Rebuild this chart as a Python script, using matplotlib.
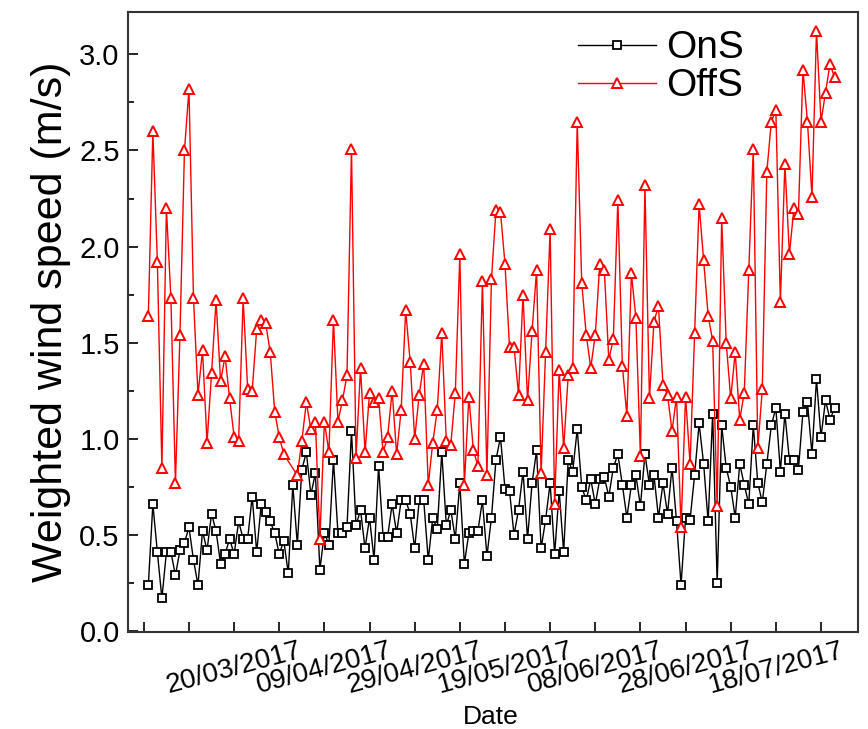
import numpy as np
import matplotlib
matplotlib.use('Agg')
import matplotlib.pyplot as plt
import matplotlib.dates as mdates
from matplotlib.ticker import FixedLocator, MultipleLocator, FormatStrFormatter

plt.rcParams['font.family'] = 'Liberation Sans'

# daily weighted wind speed, 01/03/2017 - 31/07/2017
start_date = '2017-03-01'

ons = [0.24, 0.66, 0.41, 0.17, 0.41, 0.41, 0.29, 0.42, 0.46, 0.54,
       0.37, 0.24, 0.52, 0.42, 0.61, 0.52, 0.35, 0.40, 0.48, 0.40,
       0.57, 0.48, 0.48, 0.70, 0.41, 0.66, 0.62, 0.57, 0.51, 0.40,
       0.47, 0.30, 0.76, 0.45, 0.84, 0.93, 0.71, 0.82, 0.32, 0.51,
       0.45, 0.89, 0.51, 0.51, 0.54, 1.04, 0.55, 0.63, 0.43, 0.59,
       0.37, 0.86, 0.49, 0.49, 0.66, 0.51, 0.68, 0.68, 0.61, 0.43,
       0.68, 0.68, 0.37, 0.59, 0.53, 0.93, 0.55, 0.63, 0.48, 0.77,
       0.35, 0.51, 0.52, 0.52, 0.68, 0.39, 0.59, 0.89, 1.01, 0.74,
       0.73, 0.50, 0.63, 0.83, 0.48, 0.77, 0.94, 0.43, 0.58, 0.77,
       0.40, 0.73, 0.41, 0.89, 0.83, 1.05, 0.75, 0.68, 0.79, 0.66,
       0.79, 0.80, 0.70, 0.85, 0.92, 0.76, 0.59, 0.76, 0.81, 0.65,
       0.92, 0.76, 0.81, 0.59, 0.77, 0.61, 0.85, 0.57, 0.24, 0.59,
       0.58, 0.81, 1.08, 0.87, 0.57, 1.13, 0.25, 1.07, 0.85, 0.75,
       0.59, 0.87, 0.76, 0.66, 1.07, 0.77, 0.67, 0.87, 1.07, 1.16,
       0.83, 1.13, 0.89, 0.89, 0.84, 1.14, 1.19, 0.92, 1.31, 1.01,
       1.20, 1.10, 1.16]

offs = [1.64, 2.60, 1.92, 0.85, 2.20, 1.73, 0.77, 1.54, 2.50, 2.82,
        1.73, 1.23, 1.46, 0.98, 1.34, 1.72, 1.30, 1.43, 1.21, 1.01,
        0.99, 1.73, 1.26, 1.25, 1.57, 1.62, 1.60, 1.45, 1.14, 1.01,
        0.92, np.nan, np.nan, 0.81, 0.99, 1.19, 1.05, 1.09, 0.48, 1.09,
        0.93, 1.62, 1.09, 1.20, 1.33, 2.51, 0.90, 1.37, 0.93, 1.24,
        1.19, 1.21, 0.93, 1.01, 1.25, 0.92, 1.15, 1.67, 1.40, 1.00,
        1.23, 1.39, 0.76, 0.98, 1.15, 1.55, 0.99, 0.97, 1.24, 1.96,
        0.76, 1.22, 0.94, 0.86, 1.82, 0.81, 1.83, 2.19, 2.18, 1.91,
        1.48, 1.48, 1.23, 1.75, 1.20, 1.56, 1.88, 0.82, 1.45, 2.09,
        0.66, 1.36, 0.95, 1.33, 1.37, 2.65, 1.81, 1.54, 1.37, 1.54,
        1.91, 1.88, 1.41, 1.52, 2.24, 1.38, 1.12, 1.86, 1.63, 0.91,
        2.32, 1.21, 1.61, 1.69, 1.28, 1.23, 1.04, 1.22, 0.54, 1.22,
        0.87, 1.55, 2.22, 1.93, 1.64, 1.51, 0.65, 2.15, 1.50, 1.21,
        1.45, 1.10, 1.24, 1.88, 2.51, 0.95, 1.26, 2.39, 2.65, 2.71,
        1.71, 2.43, 1.96, 2.20, 2.17, 2.92, 2.65, 2.26, 3.12, 2.65,
        2.80, 2.95, 2.88]

tick_labels = ['20/03/2017', '09/04/2017', '29/04/2017', '19/05/2017',
               '08/06/2017', '28/06/2017', '18/07/2017']

dates = np.datetime64(start_date) + np.arange(len(ons))
x = mdates.date2num(dates)
ons = np.array(ons)
offs = np.array(offs)

fig = plt.figure(figsize=(8.68, 7.29), dpi=100)
ax = fig.add_axes([0.1475, 0.133, 0.841, 0.8505])

ok = ~np.isnan(ons)
ax.plot(x[ok], ons[ok], color='black', lw=1.0, marker='s', ms=5.8,
        mfc='white', mec='black', mew=1.3, label='OnS')
ok = ~np.isnan(offs)
ax.plot(x[ok], offs[ok], color='red', lw=1.0, marker='^', ms=7.5,
        mfc='white', mec='red', mew=1.4, label='OffS')

# labelled ticks every 20 days, unlabelled ones in between
first = mdates.date2num(np.datetime64('2017-02-28'))
all_ticks = first + np.arange(0, 151, 10)
major = mdates.date2num(np.array(['%s-%s-%s' % (t[6:], t[3:5], t[:2]) for t in tick_labels],
                                 dtype='datetime64[D]'))
minor = [t for t in all_ticks if t not in set(major)]
ax.xaxis.set_major_locator(FixedLocator(major))
ax.xaxis.set_minor_locator(FixedLocator(minor))
ax.set_xticklabels(tick_labels, rotation=15, ha='center', fontsize=20)
ax.set_xlim(first - 3.5, first + 158.2)

ax.set_ylim(-0.005, 3.22)
ax.yaxis.set_major_locator(MultipleLocator(0.5))
ax.yaxis.set_minor_locator(MultipleLocator(0.25))
ax.yaxis.set_major_formatter(FormatStrFormatter('%.1f'))

ax.tick_params(which='both', direction='in', width=1.2, length=7)
ax.tick_params(axis='y', which='minor', length=4)
ax.tick_params(axis='y', labelsize=21, pad=6)
ax.tick_params(axis='x', pad=4)
for s in ax.spines.values():
    s.set_linewidth(1.5)
    s.set_color('#333333')

fig.text(0.565, 0.016, 'Date', fontsize=19, ha='center', va='center')
ax.set_ylabel('Weighted wind speed (m/s)', fontsize=31, labelpad=6)

ax.legend(loc='upper left', bbox_to_anchor=(0.585, 1.008), frameon=False,
          fontsize=28, handlelength=2.0, handletextpad=0.25, labelspacing=0.05,
          borderaxespad=0.2)

plt.savefig('out.png', dpi=100)
